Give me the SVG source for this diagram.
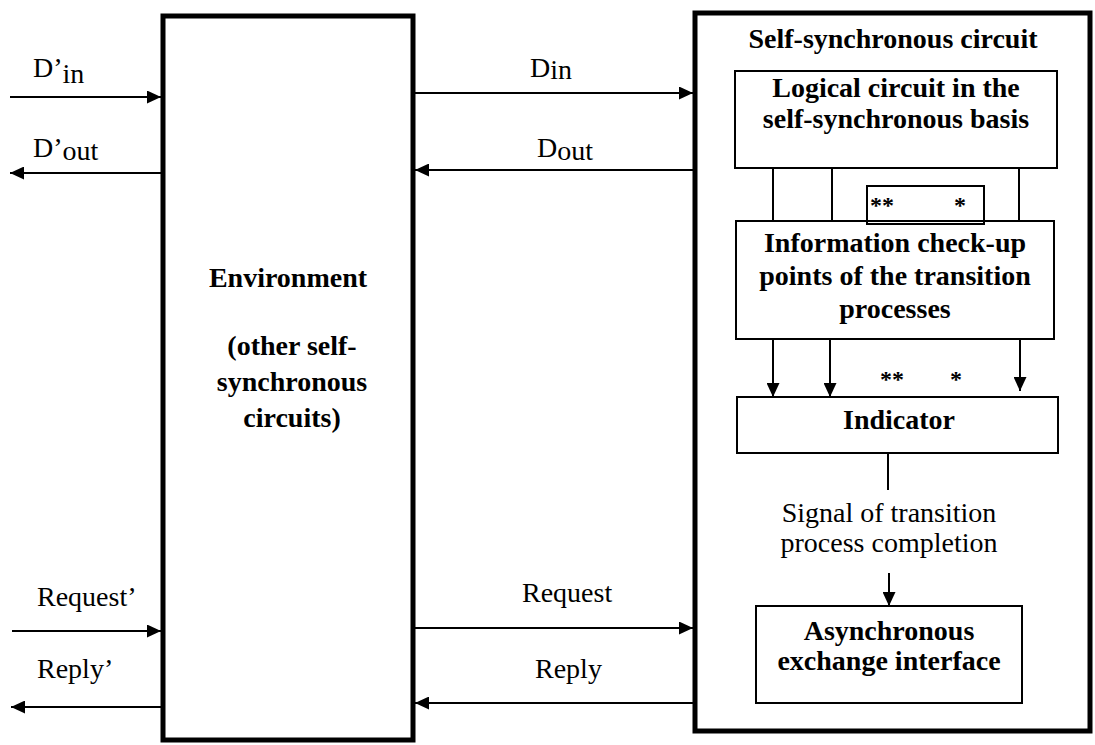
<svg xmlns="http://www.w3.org/2000/svg" width="1095" height="745" viewBox="0 0 1095 745">
<style>
.big{fill:none;stroke:#000;stroke-width:5}
.box{fill:none;stroke:#000;stroke-width:2}
.ln{stroke:#000;stroke-width:2;fill:none}
.b{font-family:"Liberation Serif","Times New Roman",serif;font-weight:bold;font-size:28px;fill:#000}
.r{font-family:"Liberation Serif","Times New Roman",serif;font-size:28px;fill:#000}
.st{font-family:"Liberation Serif","Times New Roman",serif;font-weight:bold;font-size:24px;fill:#000}
</style>
<defs>
<marker id="ah" markerUnits="userSpaceOnUse" markerWidth="15" markerHeight="13" refX="14" refY="6.5" orient="auto">
<path d="M0,0 L14,6.5 L0,13 Z" fill="#000"/>
</marker>
</defs>
<rect width="1095" height="745" fill="#fff"/>
<g id="environment">
<rect class="big" x="163" y="16" width="250" height="724"/>
<text class="b" x="288" y="287" text-anchor="middle">Environment</text>
<text class="b" x="292" y="355" text-anchor="middle">(other self-</text>
<text class="b" x="292" y="391" text-anchor="middle">synchronous</text>
<text class="b" x="292" y="427" text-anchor="middle">circuits)</text>
</g>
<g id="self-synchronous-circuit">
<rect class="big" x="695" y="13" width="395" height="718"/>
<text class="b" x="893" y="48" text-anchor="middle">Self-synchronous circuit</text>
</g>
<g id="logical-circuit">
<rect class="box" x="735" y="71" width="322" height="97"/>
<text class="b" x="896" y="97" text-anchor="middle">Logical circuit in the</text>
<text class="b" x="896" y="128" text-anchor="middle">self-synchronous basis</text>
</g>
<g id="check-points">
<rect class="box" x="736" y="221" width="318" height="118"/>
<text class="b" x="895" y="252" text-anchor="middle">Information check-up</text>
<text class="b" x="895" y="285" text-anchor="middle">points of the transition</text>
<text class="b" x="895" y="318" text-anchor="middle">processes</text>
</g>
<g id="stars-box">
<rect class="box" x="867" y="186" width="117" height="38"/>
<text class="st" x="870" y="213">**</text>
<text class="st" x="954" y="213">*</text>
</g>
<g id="indicator">
<rect class="box" x="737" y="397" width="321" height="56"/>
<text class="b" x="899" y="429" text-anchor="middle">Indicator</text>
</g>
<g id="async-interface">
<rect class="box" x="756" y="606" width="266" height="97"/>
<text class="b" x="889" y="640" text-anchor="middle">Asynchronous</text>
<text class="b" x="889" y="670" text-anchor="middle">exchange interface</text>
</g>
<g id="connectors">
<line class="ln" x1="10" y1="97" x2="161" y2="97" marker-end="url(#ah)"/>
<line class="ln" x1="161" y1="173" x2="10" y2="173" marker-end="url(#ah)"/>
<line class="ln" x1="415" y1="93" x2="693" y2="93" marker-end="url(#ah)"/>
<line class="ln" x1="693" y1="170" x2="415" y2="170" marker-end="url(#ah)"/>
<line class="ln" x1="12" y1="631" x2="161" y2="631" marker-end="url(#ah)"/>
<line class="ln" x1="161" y1="707" x2="11" y2="707" marker-end="url(#ah)"/>
<line class="ln" x1="415" y1="628" x2="693" y2="628" marker-end="url(#ah)"/>
<line class="ln" x1="693" y1="703" x2="415" y2="703" marker-end="url(#ah)"/>
<line class="ln" x1="773" y1="168" x2="773" y2="221"/>
<line class="ln" x1="832" y1="168" x2="832" y2="221"/>
<line class="ln" x1="1019" y1="168" x2="1019" y2="221"/>
<line class="ln" x1="773" y1="339" x2="773" y2="397" marker-end="url(#ah)"/>
<line class="ln" x1="830" y1="339" x2="830" y2="397" marker-end="url(#ah)"/>
<line class="ln" x1="1020" y1="339" x2="1020" y2="391" marker-end="url(#ah)"/>
<line class="ln" x1="888" y1="453" x2="888" y2="490"/>
<line class="ln" x1="889" y1="573" x2="889" y2="606" marker-end="url(#ah)"/>
<text class="st" x="880" y="387">**</text>
<text class="st" x="950" y="387">*</text>
<text class="r" x="889" y="522" text-anchor="middle">Signal of transition</text>
<text class="r" x="889" y="552" text-anchor="middle">process completion</text>
<text class="r" x="33" y="77">D’<tspan dy="6">in</tspan></text>
<text class="r" x="33" y="157">D’<tspan dy="3">out</tspan></text>
<text class="r" x="530" y="77">D<tspan dy="2">in</tspan></text>
<text class="r" x="537" y="157">D<tspan dy="3">out</tspan></text>
<text class="r" x="37" y="606">Request’</text>
<text class="r" x="37" y="678">Reply’</text>
<text class="r" x="522" y="602">Request</text>
<text class="r" x="535" y="678">Reply</text>
</g>
</svg>
